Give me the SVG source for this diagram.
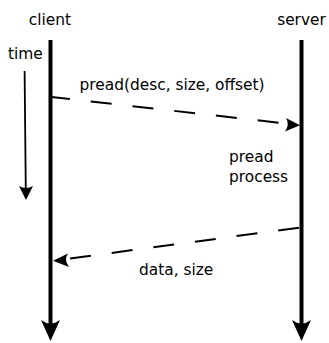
<svg xmlns="http://www.w3.org/2000/svg" width="329" height="343" viewBox="0 0 329 343">
  <style>
    text { font-family: "DejaVu Sans", "Liberation Sans", sans-serif; font-size: 15.4px; fill: #000; }
    .life { stroke: #000; stroke-width: 4; fill: none; }
    .msg { stroke: #000; stroke-width: 2; fill: none; stroke-dasharray: 21 21; }
    .head { fill: #000; stroke: none; }
  </style>
  <rect width="329" height="343" fill="#fff"/>
  <g id="client">
    <text x="50" y="25" text-anchor="middle">client</text>
    <line class="life" x1="50.5" y1="40" x2="50.5" y2="326"/>
    <path class="head" d="M50.5,341 L41,320 Q50.5,327 60,320 Z"/>
  </g>
  <g id="server">
    <text x="301.5" y="25" text-anchor="middle">server</text>
    <line class="life" x1="301.5" y1="40" x2="301.5" y2="326"/>
    <path class="head" d="M301.5,341 L292,320 Q301.5,327 311,320 Z"/>
  </g>
  <g id="time">
    <text x="8" y="59">time</text>
    <line stroke="#000" stroke-width="1.8" x1="24.6" y1="71" x2="25.8" y2="192"/>
    <path class="head" d="M26,200 L19,186 Q25.9,190 33,186 Z"/>
  </g>
  <g id="pread-process">
    <text x="229" y="162">pread</text>
    <text x="229" y="182">process</text>
  </g>
  <g id="connectors">
    <g id="request">
      <line class="msg" x1="49" y1="96.7" x2="292" y2="124.2"/>
      <path class="head" d="M300,125.2 L286,118 Q290,124.6 285,131.4 Z"/>
      <text x="79.5" y="90">pread(desc, size, offset)</text>
    </g>
    <g id="reply">
      <line class="msg" x1="299" y1="227.7" x2="61" y2="259.7"/>
      <path class="head" d="M53,260.8 L68,253.5 Q63.5,259.8 69,267 Z"/>
      <text x="139" y="275">data, size</text>
    </g>
  </g>
</svg>
